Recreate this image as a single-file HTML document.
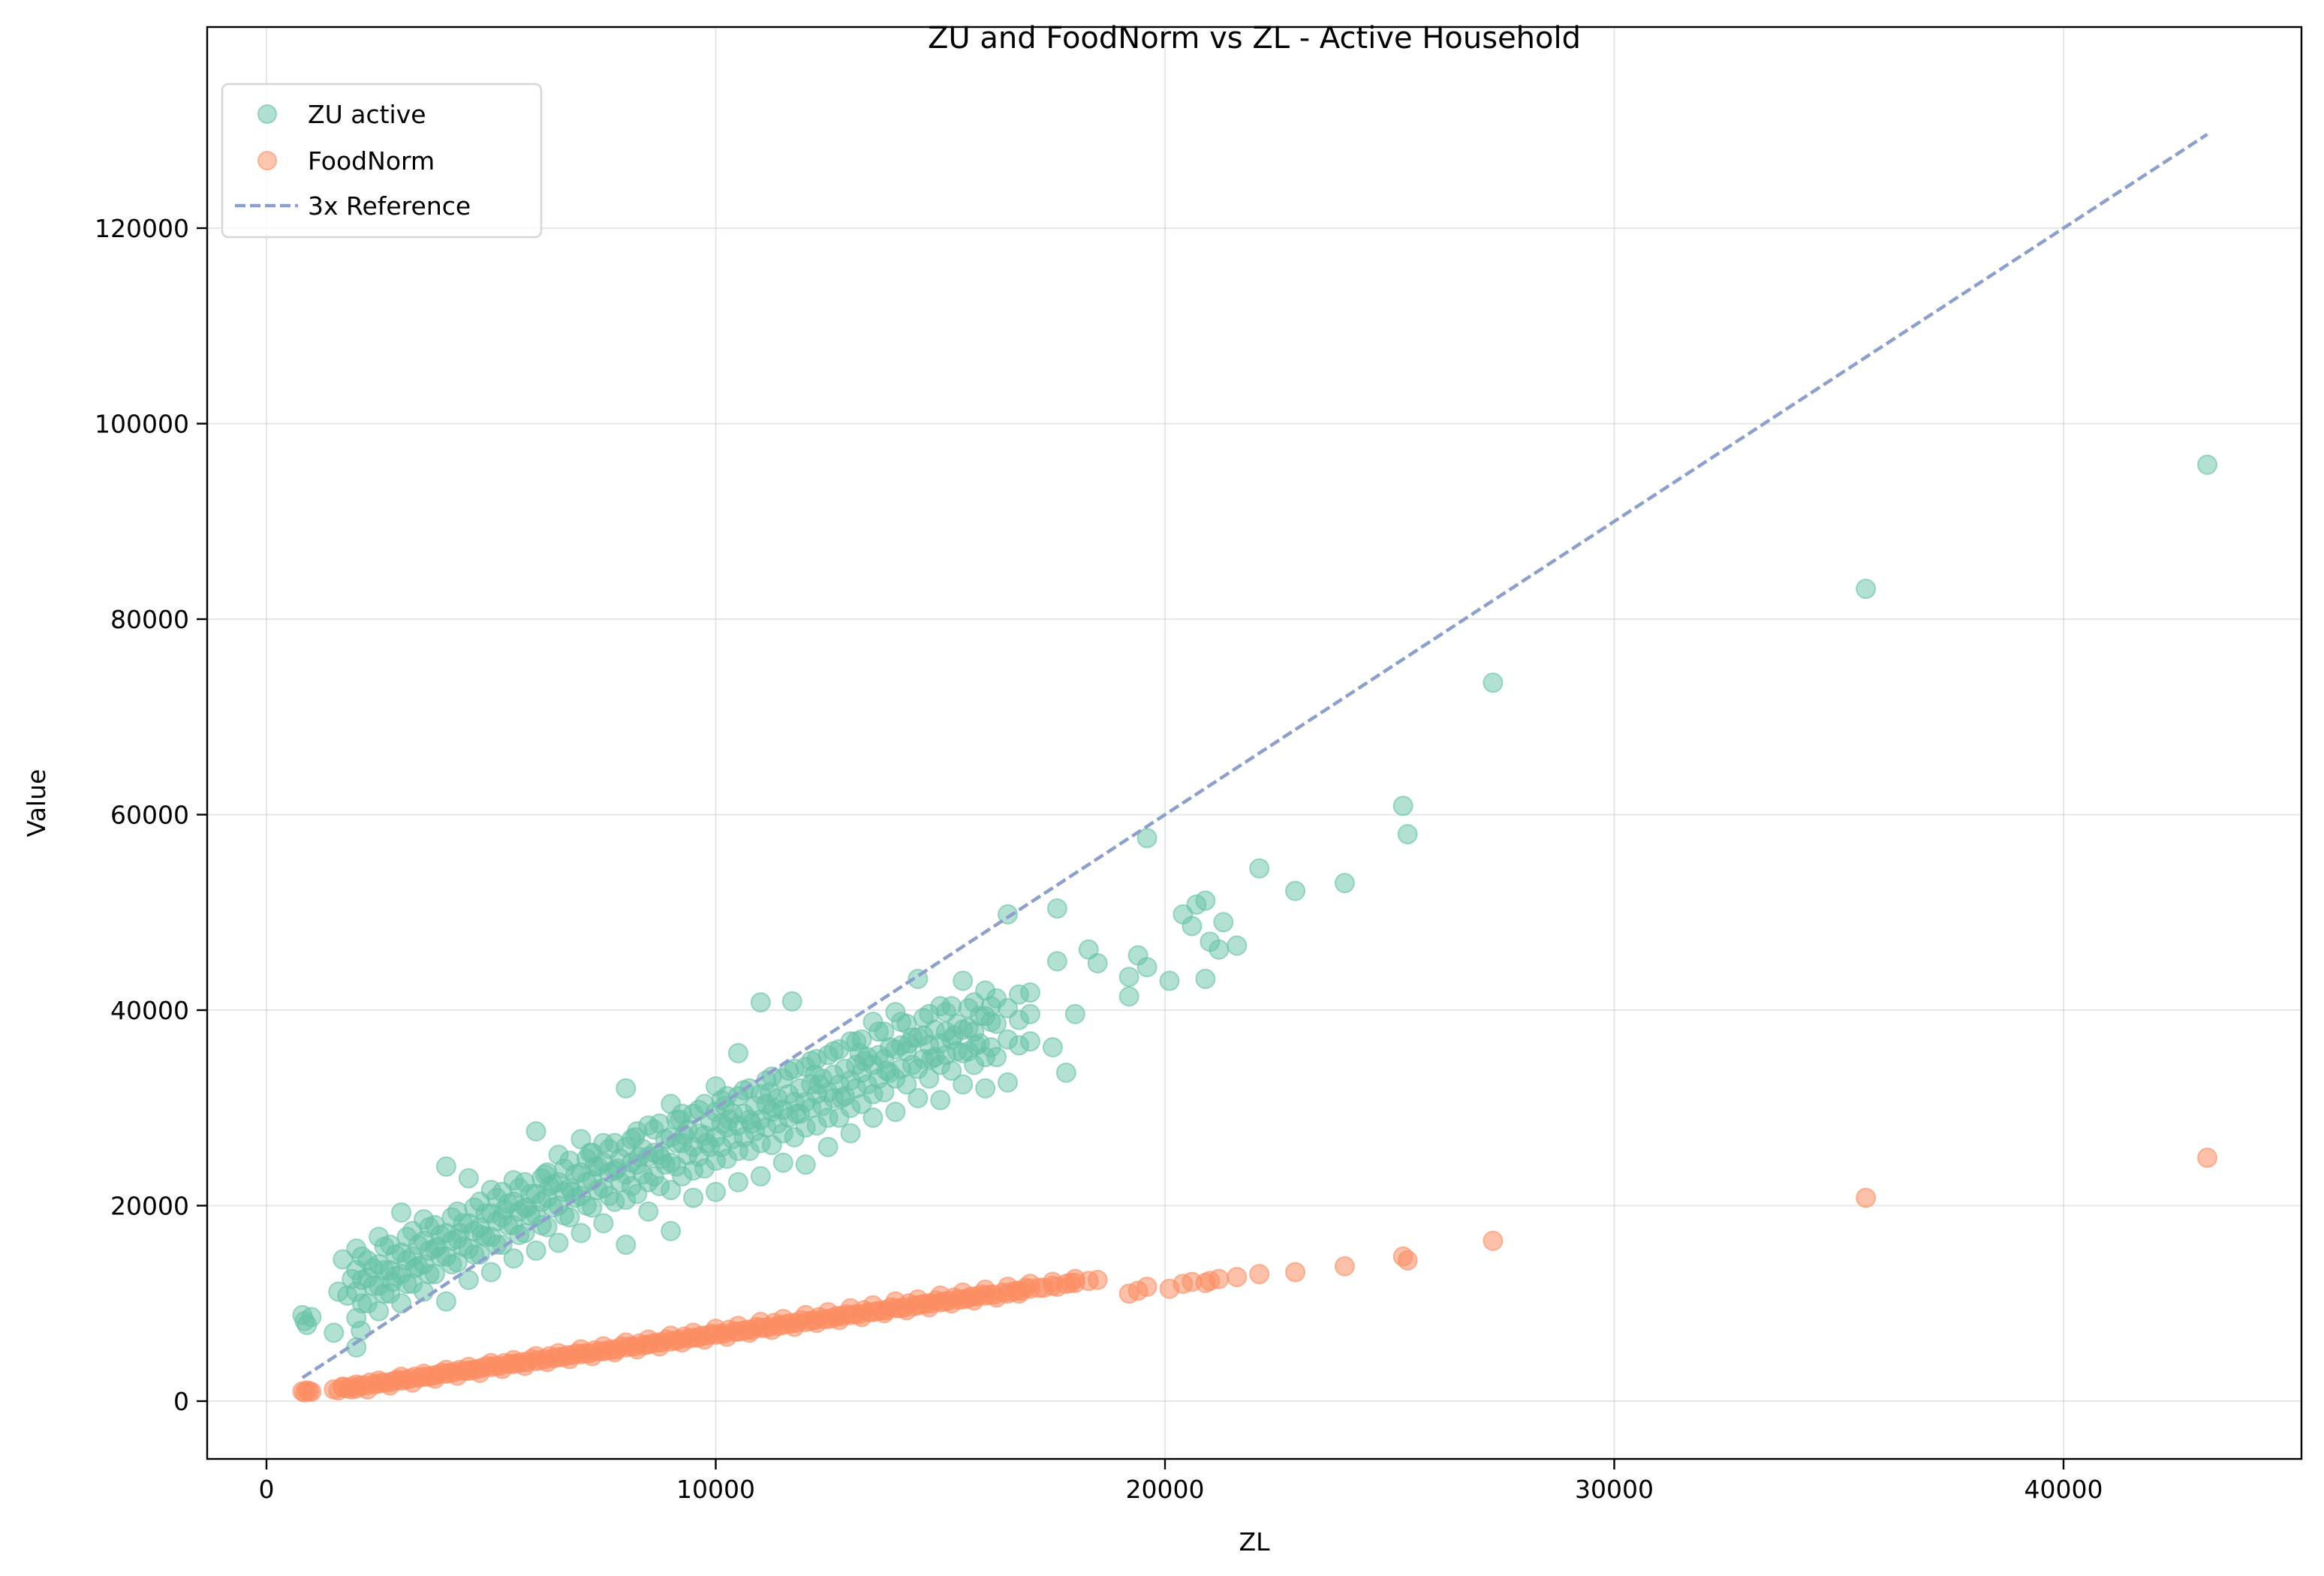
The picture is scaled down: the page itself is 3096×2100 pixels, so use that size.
<!DOCTYPE html>
<html><head><meta charset="utf-8"><style>
html,body{margin:0;padding:0;background:#fff}
svg{display:block;font-family:"DejaVu Sans","Liberation Sans",sans-serif}
</style></head><body>
<svg id="chart" width="3096" height="2100" viewBox="0 0 3096 2100" xmlns="http://www.w3.org/2000/svg">
<rect x="0" y="0" width="3096" height="2100" fill="#fff"/>
<g id="grid"></g>
<g id="marks"></g>
<rect x="276" y="36" width="2790" height="1908" fill="none" stroke="#000" stroke-width="2.4"/>
<g id="ticks"></g>
<text x="1671" y="64" font-size="40" text-anchor="middle">ZU and FoodNorm vs ZL - Active Household</text>
<text x="1671" y="2066" font-size="33" text-anchor="middle">ZL</text>
<text x="60" y="1070" font-size="33" text-anchor="middle" transform="rotate(-90 60 1070)">Value</text>
<g>
<rect x="296" y="112" width="425" height="204" rx="8" fill="#fff" fill-opacity="0.8" stroke="#d6d6d6" stroke-width="2.5"/>
<circle cx="356" cy="152" r="12" fill="#66c2a5" fill-opacity="0.5" stroke="#66c2a5" stroke-opacity="0.6" stroke-width="2"/>
<text x="410" y="164" font-size="33">ZU active</text>
<circle cx="356" cy="214" r="12" fill="#fc8d62" fill-opacity="0.5" stroke="#fc8d62" stroke-opacity="0.6" stroke-width="2"/>
<text x="410" y="226" font-size="33">FoodNorm</text>
<line x1="313" y1="274" x2="397" y2="274" stroke="#8da0cb" stroke-width="4.5" stroke-dasharray="14,6"/>
<text x="410" y="286" font-size="33">3x Reference</text>
</g>
</svg>
<script>
const xTicks = [0, 10000, 20000, 30000, 40000];
const yTicks = [0, 20000, 40000, 60000, 80000, 100000, 120000];
const zuPoints = [
[800,8800],[850,8200],[900,7800],[1000,8600],[1500,7000],[1600,11200],[1700,14500],[1800,10800],[1900,12500],[2000,5500],[2100,7200],
[2000,8500],[2000,11200],[2000,13400],[2000,15600],[2500,9200],[2500,11800],[2500,14000],[2500,16800],
[3000,10000],[3000,13000],[3000,15200],[3000,19300],[3500,11200],[3500,14000],[3500,16400],[3500,18600],
[4000,10200],[4000,14800],[4000,17200],[4000,24000],[4500,12400],[4500,15600],[4500,18200],[4500,22800],
[5000,13200],[5000,16800],[5000,19200],[5000,21600],[5500,14600],[5500,18000],[5500,20400],[5500,22600],
[6000,15400],[6000,19000],[6000,21200],[6000,27600],[6500,16200],[6500,20000],[6500,22400],[6500,25200],
[7000,17200],[7000,21000],[7000,23400],[7000,26800],[7500,18200],[7500,21800],[7500,24400],[7500,26400],
[8000,16000],[8000,20600],[8000,23200],[8000,26000],[8000,32000],[8500,19400],[8500,22400],[8500,25000],[8500,28200],
[9000,17400],[9000,21600],[9000,24400],[9000,27000],[9000,30400],[9500,20800],[9500,23600],[9500,26000],[9500,29400],
[10000,21400],[10000,24600],[10000,27000],[10000,29600],[10000,32200],[10500,22400],[10500,25600],[10500,28200],[10500,31200],[10500,35600],
[11000,23000],[11000,26400],[11000,28800],[11000,31400],[11000,40800],[11500,24400],[11500,27400],[11500,29800],[11500,33000],
[11700,40900],[12000,24200],[12000,28000],[12000,30600],[12000,34200],[12500,26000],[12500,29000],[12500,31600],[12500,35400],
[13000,27400],[13000,30000],[13000,32800],[13000,36800],[13500,29000],[13500,31400],[13500,34400],[13500,38800],
[14000,29600],[14000,33000],[14000,36000],[14000,39800],[14500,31000],[14500,34000],[14500,37200],[14500,43200],
[15000,30800],[15000,34400],[15000,36600],[15000,40400],[15500,32400],[15500,35600],[15500,38000],[15500,43000],
[16000,32000],[16000,35200],[16000,39400],[16000,42000],[16500,32600],[16500,37000],[16500,40200],[16500,49800],
[17000,36800],[17000,39600],[17000,41800],[17500,36200],[17600,45000],[17600,50400],[17800,33600],[18000,39600],[18300,46200],[18500,44800],
[19200,41400],[19200,43400],[19400,45600],[19600,44400],[19600,57600],[20100,43000],[20400,49800],[20600,48600],[20700,50800],[20900,51200],[20900,43200],[21000,47000],[21200,46200],[21300,49000],[21600,46600],[22100,54500],[22900,52200],[24000,53000],[25300,60900],[25400,58000],[27300,73500],[35600,83100],[43200,95800],
[2800,12200],[3800,15800],[4800,17000],[5800,19800],[6800,21400],[7800,23800],[8800,24800],[9800,26400],[10800,28400],[11800,29400],[12800,31000],[13800,33800],[14800,35000],[15800,36400],
[3300,13600],[4300,17200],[5300,19600],[6300,22000],[7300,24000],[8300,25000],[9300,27200],[10300,28800],[11300,30000],[12300,32400],[13300,34800],[14300,36600],[15300,37400],
[6200,23200],[7200,25400],[8200,27000],[9200,28800],[10200,30200],[11200,31600],[12200,33400],[13200,35600]
];
const zuDensePoints = [
[2250,10000],[2250,12600],[2250,14400],[2750,11000],[2750,13400],[2750,16000],[3250,12000],[3250,14800],[3250,17400],[3750,13000],[3750,15600],[3750,18000],
[4250,14200],[4250,16600],[4250,19400],[4750,15000],[4750,17800],[4750,20400],[5250,16000],[5250,18800],[5250,21400],[5750,17200],[5750,19800],[5750,22400],
[6250,17800],[6250,20800],[6250,23400],[6750,18800],[6750,21800],[6750,24600],[7250,19800],[7250,22600],[7250,25400],[7750,20400],[7750,23600],[7750,26400],
[8250,21200],[8250,24200],[8250,27600],[8750,22000],[8750,25200],[8750,28400],[9250,23000],[9250,26400],[9250,29400],[9750,23800],[9750,27200],[9750,30400],
[10250,24800],[10250,28000],[10250,31200],[10750,25600],[10750,28800],[10750,32000],[11250,26200],[11250,29600],[11250,33200],[11750,27000],[11750,30600],[11750,34000],
[12250,28200],[12250,31400],[12250,35000],[12750,29000],[12750,32400],[12750,36000],[13250,30400],[13250,33600],[13250,37000],[13750,31600],[13750,35000],[13750,37800],
[14250,32400],[14250,35800],[14250,38600],[14750,33000],[14750,36400],[14750,39600],[15250,33800],[15250,37000],[15250,40400],[15750,34400],[15750,37800],[15750,40800],
[16250,35200],[16250,38600],[16250,41200],[16750,36400],[16750,39000],[16750,41600],
[2375,11800],[2375,13600],[2875,12800],[2875,15000],[3375,13800],[3375,16000],[3875,14800],[3875,17000],[4375,15800],[4375,18200],[4875,16800],[4875,19200],
[5375,18000],[5375,20200],[5875,19000],[5875,21200],[6375,19800],[6375,22200],[6875,20800],[6875,23200],[7375,21600],[7375,24000],[7875,22400],[7875,24800],
[8375,23200],[8375,25800],[8875,24200],[8875,26800],[9375,25200],[9375,27800],[9875,26000],[9875,28600],[10375,26800],[10375,29400],[10875,27600],[10875,30200],
[11375,28400],[11375,31000],[11875,29400],[11875,32000],[12375,30200],[12375,33000],[12875,31200],[12875,34000],[13375,32400],[13375,35200],[13875,33600],[13875,36200],
[14375,34400],[14375,37200],[14875,35200],[14875,38000],[15375,35800],[15375,38600],[15875,36600],[15875,39400]
];
const zuCorePoints = [
[2125,10000],[2125,12400],[2125,14800],[2625,11000],[2625,13400],[2625,15800],[3125,12000],[3125,14400],[3125,16800],[3625,13000],[3625,15400],[3625,17800],
[4125,14000],[4125,16400],[4125,18800],[4625,15000],[4625,17400],[4625,19800],[5125,16000],[5125,18400],[5125,20800],[5625,17000],[5625,19400],[5625,21800],
[6125,18000],[6125,20400],[6125,22800],[6625,19000],[6625,21400],[6625,23800],[7125,20000],[7125,22400],[7125,24800],[7625,21000],[7625,23400],[7625,25800],
[8125,22000],[8125,24400],[8125,26800],[8625,23000],[8625,25400],[8625,27800],[9125,24000],[9125,26400],[9125,28800],[9625,25000],[9625,27400],[9625,29800],
[10125,26000],[10125,28400],[10125,30800],[10625,27000],[10625,29400],[10625,31800],[11125,28000],[11125,30400],[11125,32800],[11625,29000],[11625,31400],[11625,33800],
[12125,30000],[12125,32400],[12125,34800],[12625,31000],[12625,33400],[12625,35800],[13125,32000],[13125,34400],[13125,36800],[13625,33000],[13625,35400],[13625,37800],
[14125,34000],[14125,36400],[14125,38800],[14625,35000],[14625,37400],[14625,39200],[15125,35400],[15125,37800],[15125,39800],[15625,35800],[15625,38200],[15625,40200],
[16125,36200],[16125,38800],[16125,40400]
];
const fnPoints = [
[800,1000],[850,900],[900,1100],[950,1000],[1000,950],[1500,1200],[1600,1100],[1700,1400],[1800,1300],[1900,1500],[2000,1300],[2200,1600],[2400,1700],[2600,1900],[2800,2000],[3000,2100],[3200,2300],[3400,2400],[3600,2500],[3800,2700],[4000,2800],[4200,3000],[4400,3100],[4600,3200],[4800,3400],[5000,3500],[5200,3600],[5400,3800],[5600,3900],[5800,4000],[6000,4100],[6200,4300],[6400,4400],[6600,4500],[6800,4700],[7000,4800],[7200,4900],[7400,5100],[7600,5200],[7800,5300],[8000,5500],[8200,5600],[8400,5700],[8600,5900],[8800,6000],[9000,6100],[9200,6300],[9400,6400],[9600,6500],[9800,6700],[10000,6800],[10200,6900],[10400,7100],[10600,7200],[10800,7300],[11000,7500],[11200,7600],[11400,7700],[11600,7900],[11800,8000],[12000,8100],[12200,8300],[12400,8400],[12600,8500],[12800,8700],[13000,8800],[13200,8900],[13400,9100],[13600,9200],[13800,9300],[14000,9500],[14200,9600],[14400,9700],[14600,9900],[14800,10000],[15000,10100],[15200,10300],[15400,10400],[15600,10500],[15800,10700],[16000,10800],[16200,10900],[16400,11100],[16600,11200],[16800,11300],[17000,11500],[17200,11600],[17500,11800],[17800,12000],[18000,12100],[18300,12300],[18500,12400],
[19200,11000],[19400,11300],[19600,11700],[20100,11500],[20400,12000],[20600,12200],[20900,12100],[21000,12300],[21200,12500],[21600,12700],[22100,13000],[22900,13200],[24000,13800],[25300,14800],[25400,14400],[27300,16400],[35600,20800],[43200,24900],
[2100,1600],[3100,2200],[4100,2900],[5100,3600],[6100,4200],[7100,4900],[8100,5600],[9100,6200],[10100,6900],[11100,7500],[12100,8200],[13100,8900],[14100,9500],[15100,10200],[16100,10900],
[2500,1800],[3500,2500],[4500,3100],[5500,3800],[6500,4500],[7500,5100],[8500,5800],[9500,6500],[10500,7100],[11500,7800],[12500,8400],[13500,9100],[14500,9800],[15500,10400],[16500,11000],[17600,11700],
[2300,1900],[3300,2500],[4300,3200],[5300,3900],[6300,4600],[7300,5200],[8300,5900],[9300,6600],[10300,7300],[11300,8000],[12300,8600],[13300,9300],[14300,10000],[15300,10600],
[2700,1900],[3700,2600],[4700,3300],[5700,4000],[6700,4700],[7700,5300],[8700,6000],[9700,6700],[10700,7300],[11700,8000],[12700,8700],[13700,9300],[14700,10000],[15700,10700],[16700,11300],[17300,11600],[17900,12100],
[1700,1500],[1900,1200],[2900,2200],[3900,2900],[4900,3600],[5900,4300],[6900,4900],[7900,5600],[8900,6300],[9900,6900],[10900,7600],[11900,8300],[12900,8900],[13900,9600],[14900,10300],[15900,10900],[16900,11600]
];
const fnSpreadPoints = [
[2000,1700],[2500,2100],[3000,2500],[3500,2800],[4000,3200],[4500,3500],[5000,3900],[5500,4200],[6000,4600],[6500,4900],[7000,5300],[7500,5600],[8000,6000],[8500,6300],[9000,6700],[9500,7000],[10000,7400],[10500,7700],[11000,8100],[11500,8400],[12000,8800],[12500,9100],[13000,9500],[13500,9800],[14000,10200],[14500,10400],[15000,10800],[15500,11100],[16000,11400],[16500,11700],[17000,12000],[17500,12200],[18000,12500],
[2250,1200],[2750,1600],[3250,1900],[3750,2300],[4250,2600],[4750,2900],[5250,3300],[5750,3600],[6250,4000],[6750,4300],[7250,4600],[7750,5000],[8250,5300],[8750,5600],[9250,6000],[9750,6300],[10250,6600],[10750,7000],[11250,7300],[11750,7600],[12250,8000],[12750,8300],[13250,8600],[13750,9000],[14250,9300],[14750,9600],[15250,10000],[15750,10300],[16250,10600],[16750,11000]
];
const refX = [800, 43200];

const X0=355, XS=598.5/10000, Y0=1867, YS=260.5/20000;
const sx = v => X0 + v*XS;
const sy = v => Y0 - v*YS;
const NS='http://www.w3.org/2000/svg';
const grid=document.getElementById('grid'), marks=document.getElementById('marks'), ticks=document.getElementById('ticks');
function mk(tag, attrs, parent){const e=document.createElementNS(NS,tag);for(const k in attrs)e.setAttribute(k,attrs[k]);parent.appendChild(e);return e;}
xTicks.forEach(t=>{
  const gl=mk('line',{x1:sx(t),x2:sx(t),y1:36,y2:1944,stroke:'#b0b0b0','stroke-opacity':0.3,'stroke-width':2},grid);
  
  
  const tk=mk('line',{x1:sx(t),x2:sx(t),y1:1944,y2:1958,stroke:'#000','stroke-width':2.4},ticks);
  
  
  const tl=mk('text',{x:sx(t),y:1996,'font-size':33,'text-anchor':'middle'},ticks);
  tl.textContent=String(t);
  
  
});
yTicks.forEach(t=>{
  const gl=mk('line',{x1:276,x2:3066,y1:sy(t),y2:sy(t),stroke:'#b0b0b0','stroke-opacity':0.3,'stroke-width':2},grid);
  
  
  const tk=mk('line',{x1:262,x2:276,y1:sy(t),y2:sy(t),stroke:'#000','stroke-width':2.4},ticks);
  
  
  const tl=mk('text',{x:252,y:sy(t)+12,'font-size':33,'text-anchor':'end'},ticks);
  tl.textContent=String(t);
  
  
});
zuPoints.concat(zuDensePoints, zuCorePoints).forEach(p=>{
  const c=mk('circle',{cx:sx(p[0]),cy:sy(p[1]),r:12.5,fill:'#66c2a5','fill-opacity':0.5,stroke:'#66c2a5','stroke-opacity':0.6,'stroke-width':2},marks);
  
  
});
fnPoints.concat(fnSpreadPoints).forEach(p=>{
  const c=mk('circle',{cx:sx(p[0]),cy:sy(p[1]),r:12.5,fill:'#fc8d62','fill-opacity':0.55,stroke:'#fc8d62','stroke-opacity':0.6,'stroke-width':2},marks);
  
  
});
const ln=mk('line',{x1:sx(refX[0]),y1:sy(3*refX[0]),x2:sx(refX[1]),y2:sy(3*refX[1]),stroke:'#8da0cb','stroke-width':4.5,'stroke-dasharray':'14,6'},marks);


</script>
</body></html>
